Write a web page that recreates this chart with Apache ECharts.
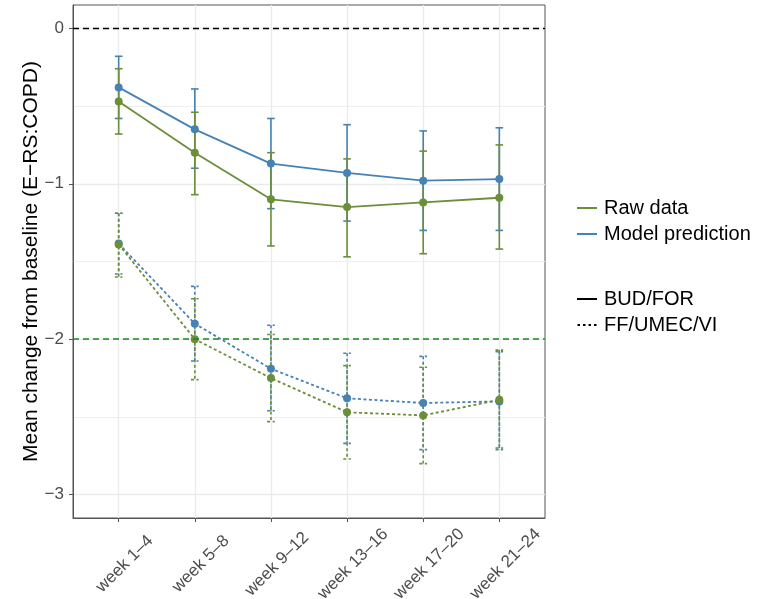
<!DOCTYPE html>
<html>
<head>
<meta charset="utf-8">
<script src="https://cdn.jsdelivr.net/npm/echarts@6/dist/echarts.min.js"></script>
<style>
  html, body { margin: 0; padding: 0; background: #fff; }
  #chart { width: 758px; height: 599px; }
</style>
</head>
<body>
<div id="chart"></div>
<script>
// categories (x positions 1..6)
var weeks = ["week 1–4", "week 5–8", "week 9–12", "week 13–16", "week 17–20", "week 21–24"];

// BUD/FOR (solid)
var budRaw     = [-0.47, -0.80, -1.10, -1.15, -1.12, -1.09];
var budRawLo   = [-0.68, -1.07, -1.40, -1.47, -1.45, -1.42];
var budRawHi   = [-0.26, -0.54, -0.80, -0.84, -0.79, -0.75];
var budModel   = [-0.38, -0.65, -0.87, -0.93, -0.98, -0.97];
var budModelLo = [-0.58, -0.90, -1.16, -1.24, -1.30, -1.30];
var budModelHi = [-0.18, -0.39, -0.58, -0.62, -0.66, -0.64];

// FF/UMEC/VI (dotted)
var ffRaw     = [-1.39, -2.00, -2.25, -2.47, -2.49, -2.39];
var ffRawLo   = [-1.60, -2.26, -2.53, -2.77, -2.80, -2.71];
var ffRawHi   = [-1.19, -1.74, -1.97, -2.17, -2.18, -2.07];
var ffModel   = [-1.385, -1.90, -2.19, -2.38, -2.41, -2.40];
var ffModelLo = [-1.58, -2.14, -2.46, -2.67, -2.71, -2.70];
var ffModelHi = [-1.19, -1.66, -1.91, -2.09, -2.11, -2.08];

// reference lines and tick labels
var zeroLine = 0;
var ffRefLine = -2;
var yMajor = [-3, -2, -1, 0];
var yMinor = [-2.5, -1.5, -0.5];

var GREEN = "#6b8e3a";
var BLUE = "#4682b4";
var DOT = [3, 2.5];
var FONT = "Liberation Sans, Arial, sans-serif";

function points(vals) {
  var out = [];
  for (var i = 0; i < vals.length; i++) out.push([i + 1, vals[i]]);
  return out;
}
function bars(lo, hi) {
  var out = [];
  for (var i = 0; i < lo.length; i++) out.push([i + 1, lo[i], hi[i]]);
  return out;
}

function errorBar(dash) {
  return function (params, api) {
    var x = api.value(0);
    var top = api.coord([x, api.value(2)]);
    var bot = api.coord([x, api.value(1)]);
    var l = api.coord([x - 0.05, 0])[0];
    var r = api.coord([x + 0.05, 0])[0];
    var st = { stroke: api.visual("color"), lineWidth: 1.6, lineDash: dash };
    return {
      type: "group",
      children: [
        { type: "line", shape: { x1: top[0], y1: top[1], x2: bot[0], y2: bot[1] }, style: st },
        { type: "line", shape: { x1: l, y1: top[1], x2: r, y2: top[1] }, style: st },
        { type: "line", shape: { x1: l, y1: bot[1], x2: r, y2: bot[1] }, style: st }
      ]
    };
  };
}

function barSeries(lo, hi, color, dash) {
  return {
    type: "custom",
    renderItem: errorBar(dash),
    itemStyle: { color: color },
    encode: { x: 0, y: [1, 2] },
    data: bars(lo, hi),
    silent: true,
    z: 2
  };
}

function lineSeries(name, vals, color, dash) {
  return {
    name: name,
    type: "line",
    data: points(vals),
    symbol: "circle",
    symbolSize: 8,
    itemStyle: { color: color },
    lineStyle: { color: color, width: 1.8, type: dash || "solid" },
    silent: true,
    z: 3
  };
}

var chart = echarts.init(document.getElementById("chart"));

var option = {
  animation: false,
  backgroundColor: "#fff",
  textStyle: { fontFamily: FONT },
  grid: {
    left: 73, right: 213, top: 5, bottom: 81,
    outerBoundsMode: "none",
    containLabel: false,
    show: true, borderColor: "#555", borderWidth: 1
  },
  legend: [
    {
      orient: "vertical", left: 572, top: 193,
      itemWidth: 20, itemHeight: 2, itemGap: 6,
      icon: "rect",
      textStyle: { fontSize: 20, color: "#000", lineHeight: 20, padding: [0, 0, 0, 2], fontFamily: FONT },
      data: ["Raw data", "Model prediction"],
      selectedMode: false
    },
    {
      orient: "vertical", left: 572, top: 284,
      itemWidth: 20, itemHeight: 2, itemGap: 6,
      textStyle: { fontSize: 20, color: "#000", lineHeight: 20, padding: [0, 0, 0, 2], fontFamily: FONT },
      data: [
        { name: "BUD/FOR", icon: "rect" },
        { name: "FF/UMEC/VI", icon: "path://M0,0h2.5v2h-2.5zM5.5,0h2.5v2h-2.5zM11,0h2.5v2h-2.5zM16.5,0h2.5v2h-2.5z" }
      ],
      selectedMode: false
    }
  ],
  xAxis: {
    type: "value",
    min: 0.4,
    max: 6.6,
    axisLine: { show: true, onZero: false, lineStyle: { color: "#555", width: 1 } },
    axisTick: { show: true, length: 4, customValues: [1, 2, 3, 4, 5, 6], lineStyle: { color: "#555" } },
    axisLabel: {
      customValues: [1, 2, 3, 4, 5, 6],
      rotate: 45,
      align: "center",
      verticalAlign: "top",
      margin: 40,
      fontSize: 17,
      color: "#4d4d4d",
      fontFamily: FONT,
      formatter: function (v) { return weeks[Math.round(v) - 1]; }
    },
    splitLine: { show: true, lineStyle: { color: "#ebebeb", width: 1.3 } }
  },
  yAxis: [
    {
      type: "value",
      min: -3.15,
      max: 0.15,
      name: "Mean change from baseline (E−RS:COPD)",
      nameLocation: "middle",
      nameRotate: 90,
      nameGap: 31,
      nameMoveOverlap: false,
      nameTextStyle: { fontSize: 21, color: "#000", fontFamily: FONT },
      axisLine: { show: true, onZero: false, lineStyle: { color: "#555", width: 1 } },
      axisTick: { show: true, length: 4, customValues: yMajor, lineStyle: { color: "#555" } },
      axisLabel: {
        customValues: yMajor,
        margin: 9,
        fontSize: 17,
        color: "#4d4d4d",
        fontFamily: FONT,
        formatter: function (v) { return String(v).replace("-", "\u2212"); }
      },
      splitLine: { show: true, lineStyle: { color: "#ebebeb", width: 1.3 } }
    },
    {
      type: "value",
      min: -3.15,
      max: 0.15,
      position: "left",
      axisLine: { show: false },
      axisTick: { show: false, customValues: yMinor },
      axisLabel: { show: false, customValues: yMinor },
      splitLine: { show: true, lineStyle: { color: "#efefef", width: 1 } }
    }
  ],
  series: [
    barSeries(budModelLo, budModelHi, BLUE, null),
    barSeries(budRawLo, budRawHi, GREEN, null),
    barSeries(ffModelLo, ffModelHi, BLUE, DOT),
    barSeries(ffRawLo, ffRawHi, GREEN, DOT),
    {
      type: "line",
      data: [],
      silent: true,
      z: 1,
      markLine: {
        silent: true,
        symbol: "none",
        label: { show: false },
        data: [
          { yAxis: zeroLine, lineStyle: { color: "#000", type: [6, 4], width: 1.4 } },
          { yAxis: ffRefLine, lineStyle: { color: "#1a861a", type: [6, 4], width: 1.5 } }
        ]
      }
    },
    lineSeries("Model prediction", budModel, BLUE),
    lineSeries("Raw data", budRaw, GREEN),
    lineSeries("Model prediction", ffModel, BLUE, DOT),
    lineSeries("Raw data", ffRaw, GREEN, DOT),
    { name: "BUD/FOR", type: "line", data: [], itemStyle: { color: "#000" } },
    { name: "FF/UMEC/VI", type: "line", data: [], itemStyle: { color: "#000" } }
  ]
};

chart.setOption(option);
</script>
</body>
</html>
